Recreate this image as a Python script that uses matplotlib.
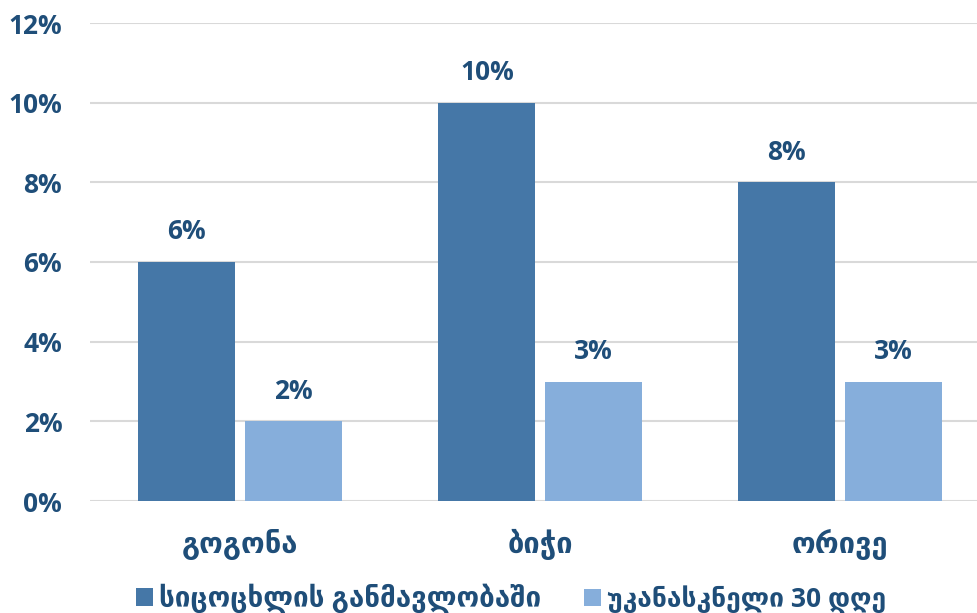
import matplotlib
matplotlib.use("Agg")
import matplotlib.pyplot as plt
from matplotlib.font_manager import FontProperties
import numpy as np

categories = ["გოგონა", "ბიჭი", "ორივე"]
series_names = ["სიცოცხლის განმავლობაში", "უკანასკნელი 30 დღე"]
lifetime = [6, 10, 8]
last30 = [2, 3, 3]
yticks = [0, 2, 4, 6, 8, 10, 12]

fam = ["Open Sans", "DejaVu Sans"]
txt = "#1F4E79"
c1 = "#4577A7"
c2 = "#86AEDB"

fig = plt.figure(figsize=(9.77, 6.13), dpi=100)
W, H = 977, 613
ax = fig.add_axes([90 / W, 1 - 501 / H, (977 - 90) / W, (501 - 23) / H])

x = np.arange(len(categories))
bw = 0.323
b1 = ax.bar(x - 0.177, lifetime, bw, color=c1, zorder=3)
b2 = ax.bar(x + 0.177, last30, bw, color=c2, zorder=3)

for bars in (b1, b2):
    for r in bars:
        ax.text(r.get_x() + r.get_width() / 2, r.get_height() + 0.42,
                f"{int(r.get_height())}%", ha="center", va="bottom",
                fontsize=19, fontweight="bold", color=txt, family=fam)

ax.set_xlim(-0.5, -0.5 + (977 - 90) / 300)
ax.set_ylim(0, 12)
ax.set_yticks(yticks)
ax.set_yticklabels([f"{v}%" for v in yticks])
ax.set_xticks(x)
ax.set_xticklabels(categories)
for lab in ax.get_yticklabels():
    lab.set_fontsize(19)
    lab.set_fontweight("bold")
    lab.set_color(txt)
    lab.set_family(fam)
geo = FontProperties(family=["DejaVu Sans"], weight="bold", size=21)
for lab in ax.get_xticklabels():
    lab.set_fontproperties(geo)
    lab.set_color(txt)
ax.tick_params(axis="both", length=0)
ax.tick_params(axis="y", pad=20)
ax.tick_params(axis="x", pad=20)
ax.grid(axis="y", color="#D9D9D9", linewidth=1.5, zorder=0)
for s in ax.spines.values():
    s.set_visible(False)

handles = [b1, b2]
starts = [136, 584]
sizes = [20, 19]
for h, name, xs, sz in zip(handles, series_names, starts, sizes):
    fp = FontProperties(family=fam, weight="bold", size=sz)
    lg = fig.legend([h], [name], loc="center left", bbox_to_anchor=(xs / W, 1 - 599 / H),
                    frameon=False, handlelength=17 / (sz * 100 / 72), handleheight=17 / (sz * 100 / 72),
                    handletextpad=0.22, borderpad=0, borderaxespad=0, prop=fp)
    for t in lg.get_texts():
        t.set_color(txt)

fig.savefig("out.png", dpi=100)
